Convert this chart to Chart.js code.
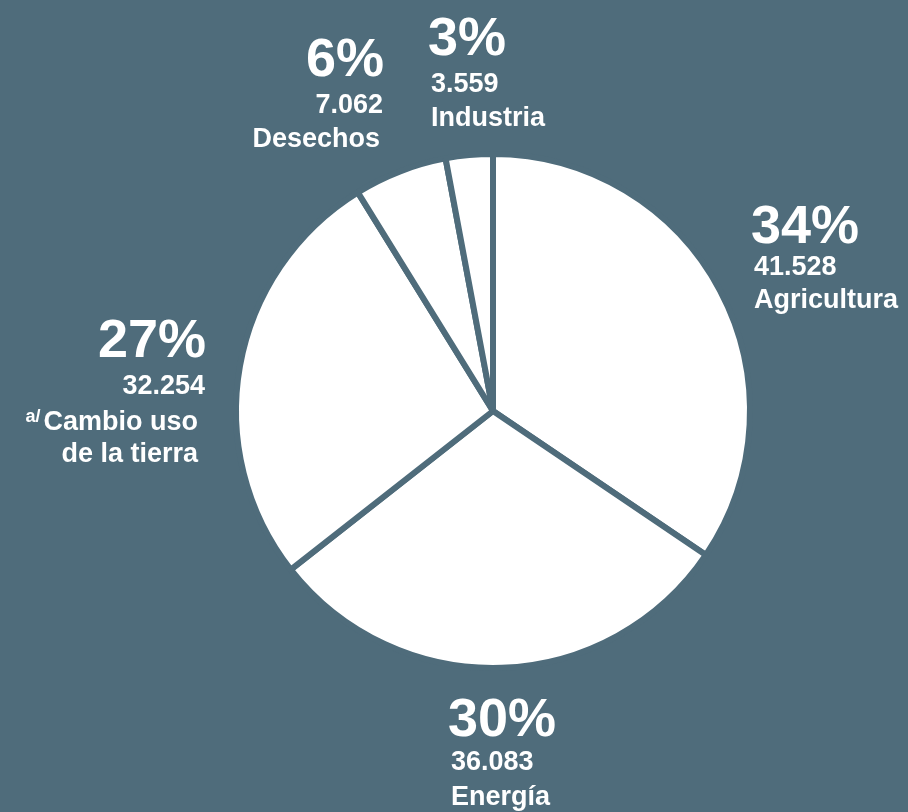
<!DOCTYPE html>
<html lang="es">
<head>
<meta charset="utf-8">
<title>Emisiones por sector</title>
<script src="https://cdn.jsdelivr.net/npm/chart.js@4.4.1/dist/chart.umd.min.js"></script>
<style>
  html, body { margin: 0; padding: 0; background: #4f6c7b; }
  #wrap { width: 908px; height: 812px; }
</style>
</head>
<body>
<div id="wrap"><canvas id="sectorChart" width="908" height="812"></canvas></div>
<script>
// sectors, clockwise from 12 o'clock
const sectors = ['Agricultura', 'Energía', 'Cambio uso de la tierra', 'Desechos', 'Industria'];
const emissions = [41528, 36083, 32254, 7062, 3559];
const nameLines = [['Agricultura'], ['Energía'], ['Cambio uso', 'de la tierra'], ['Desechos'], ['Industria']];
const noteMarks = ['', '', 'a/', '', ''];

const BG = '#4f6c7b';
const FONT = '"Liberation Sans", Arial, Helvetica, sans-serif';

// where each label block sits: x, alignment, baselines of % / value / name lines
const labelLayout = [
  { x: 751, align: 'left',  lines: [243, 275, 308] },
  { x: 448, align: 'left',  lines: [736, 770, 805] },
  { x: 206, align: 'right', lines: [357, 394, 430, 462], nameX: 198 },
  { x: 384, align: 'right', lines: [76, 113, 147], nameX: 380 },
  { x: 428, align: 'left',  lines: [55, 92, 126] }
];

// 41528 -> "41.528"
function fmt(n) {
  return String(n).replace(/\B(?=(\d{3})+(?!\d))/g, '.');
}

const total = emissions.reduce((a, b) => a + b, 0);

const sliceLabels = {
  id: 'sliceLabels',
  afterDraw(chart) {
    const ctx = chart.ctx;
    ctx.save();
    ctx.fillStyle = '#ffffff';
    ctx.textBaseline = 'alphabetic';
    emissions.forEach((v, i) => {
      const lay = labelLayout[i];
      const pct = Math.round(v / total * 100) + '%';
      ctx.textAlign = lay.align;

      ctx.font = 'bold 54px ' + FONT;
      ctx.fillText(pct, lay.x, lay.lines[0]);

      ctx.font = 'bold 27px ' + FONT;
      const nx = lay.nameX || (lay.align === 'left' ? lay.x + 3 : lay.x);
      ctx.fillText(fmt(v), lay.align === 'left' ? lay.x + 3 : lay.x - 1, lay.lines[1]);
      nameLines[i].forEach((t, k) => {
        ctx.fillText(t, nx, lay.lines[2 + k]);
      });

      // footnote marker in front of the first name line
      if (noteMarks[i]) {
        const w = ctx.measureText(nameLines[i][0]).width;
        ctx.font = 'bold 18px ' + FONT;
        ctx.textAlign = 'right';
        ctx.fillText(noteMarks[i], nx - w - 3, lay.lines[2] - 8);
      }
    });
    ctx.restore();
  }
};

new Chart(document.getElementById('sectorChart'), {
  type: 'pie',
  data: {
    labels: sectors,
    datasets: [{
      data: emissions,
      backgroundColor: '#ffffff',
      borderColor: BG,
      borderWidth: 6,
      hoverOffset: 0
    }]
  },
  options: {
    responsive: false,
    animation: false,
    radius: 257,
    layout: { padding: { left: 78, top: 10, right: 0, bottom: 0 } },
    plugins: {
      legend: { display: false },
      tooltip: { enabled: false }
    }
  },
  plugins: [sliceLabels]
});
</script>
</body>
</html>
